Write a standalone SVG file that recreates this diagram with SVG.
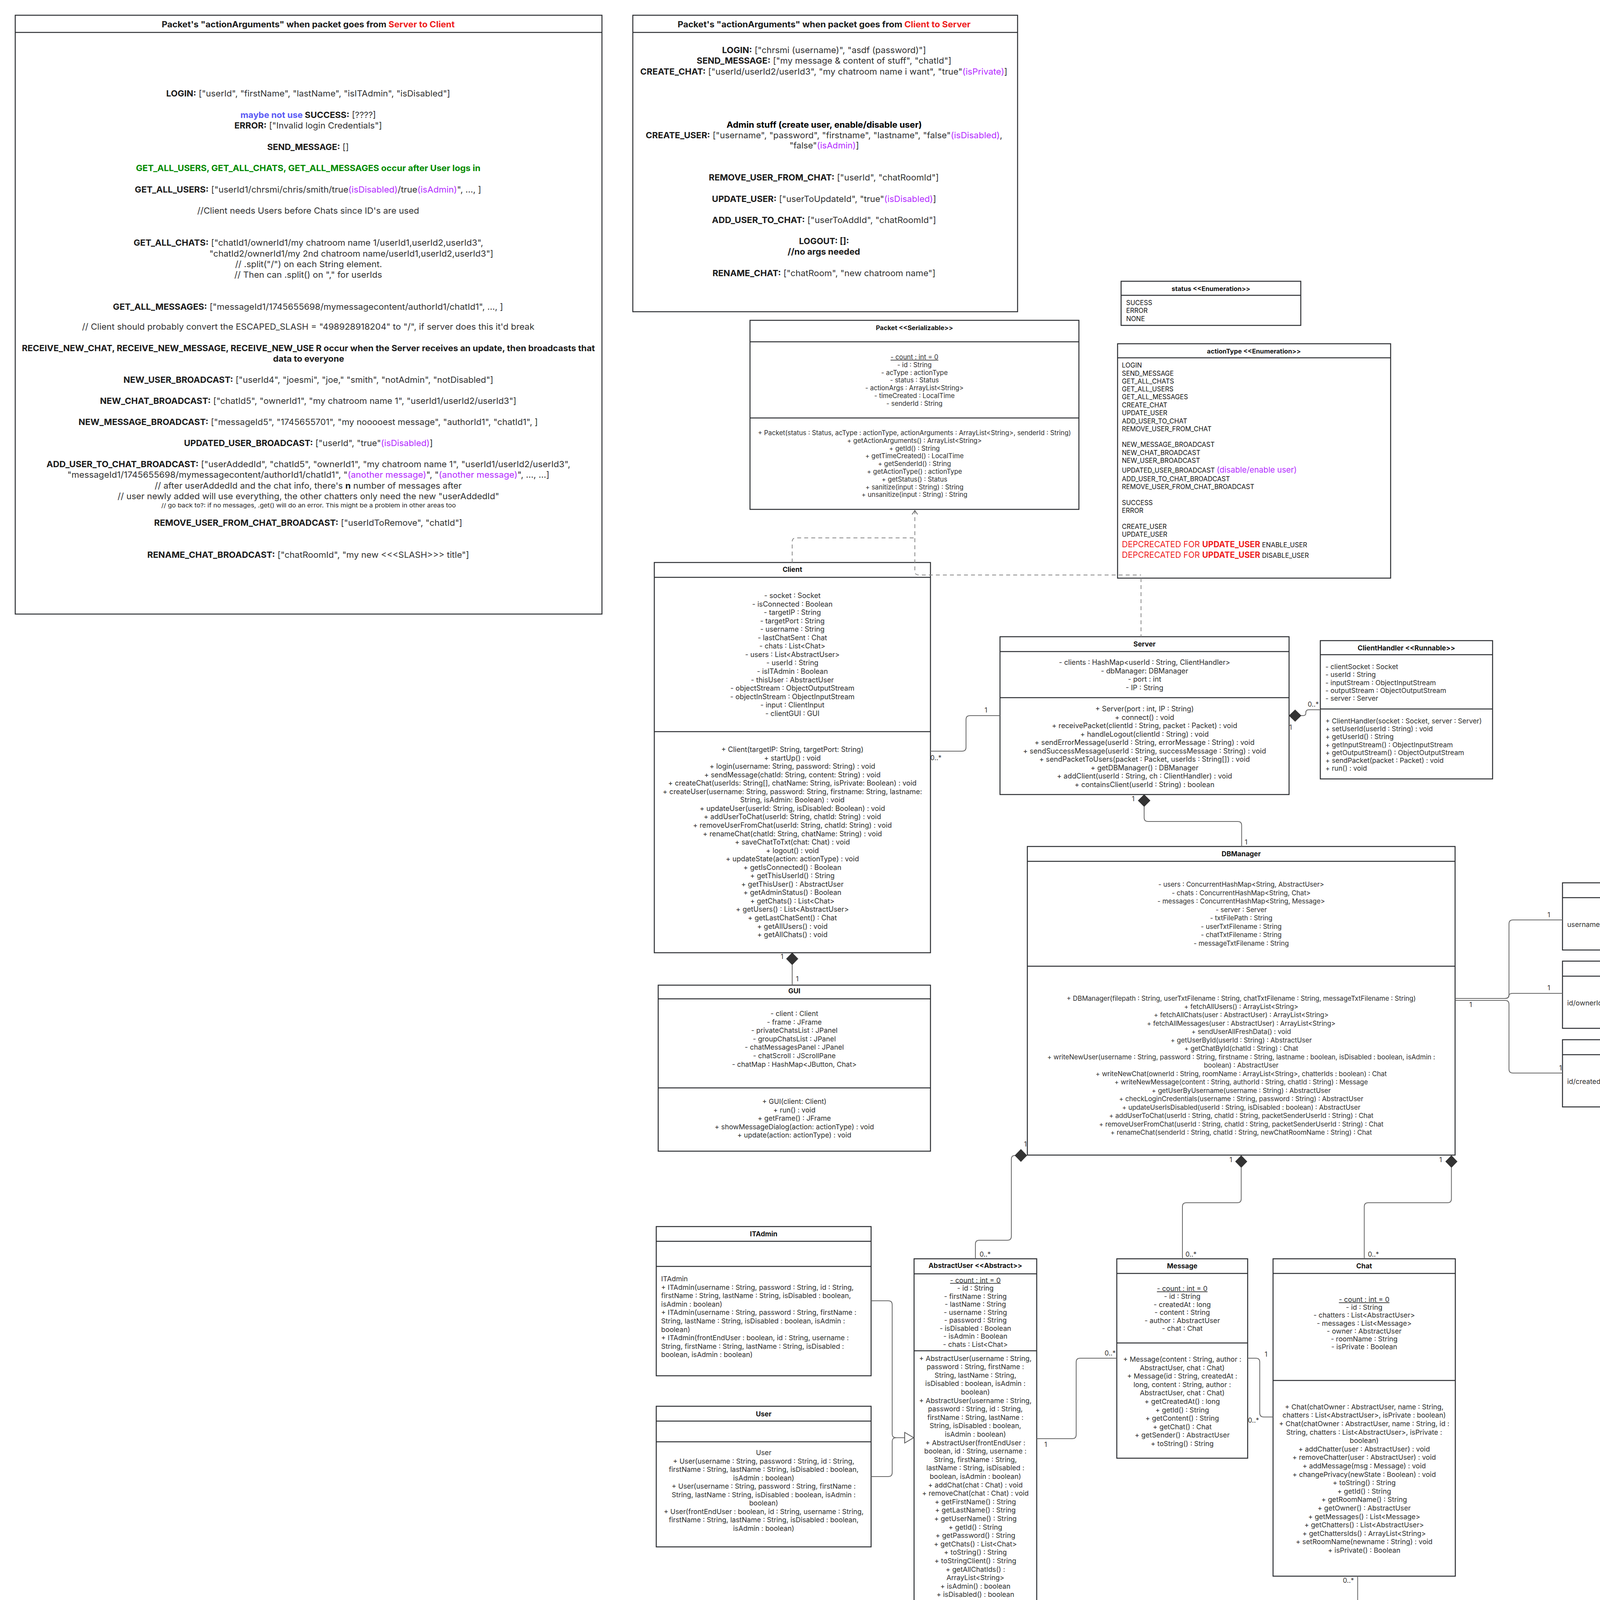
<svg xmlns="http://www.w3.org/2000/svg" width="4974" height="4220" viewBox="0 0 4974 4220">
<style>
.box{fill:#fff;stroke:#2b2d31;stroke-width:2.5}
.sep{stroke:#2b2d31;stroke-width:2.5;fill:none}
text{font-family:Inter,"Liberation Sans",Arial,sans-serif;fill:#2e2e2e}
.n{font-size:22px;fill:#333}
.h{font-size:21px;font-weight:700;fill:#1a1a1a}
.k{font-size:17.8px}
.kc{font-size:18.1px}
.ks{font-size:18.2px}
.kd{font-size:17px}
.kh{font-size:17.5px}
.kp{font-size:16.8px}
.kt{font-size:17.5px;font-weight:700;fill:#111}
.e{font-size:16.7px;fill:#111}
.et{font-size:16.5px;font-weight:700;fill:#111}
.mt{font-size:15px;font-weight:700;fill:#111}
.m{text-anchor:middle}
.b{font-weight:700;fill:#1a1a1a}
.red{fill:#ee1c1c}
.pur{fill:#b42cff}
.grn{fill:#008a00}
.blu{fill:#5a5af5}
.u{text-decoration:underline}
.c{fill:none;stroke:#666;stroke-width:2}
.d{stroke-dasharray:10 8;stroke:#888}
.lb{font-size:17px;fill:#333;text-anchor:middle}
.dia{fill:#333;stroke:#333;stroke-width:1}
.tri{fill:#fff;stroke:#555;stroke-width:2}
</style>
<rect x="0" y="0" width="4974" height="4220" fill="#fff"/>

<g id="note-server-to-client">
<rect class="box" x="39" y="39" width="1502" height="1533"/>
<line class="sep" x1="39" y1="83" x2="1541" y2="83"/>
<text class="h m" x="789" y="69.5" textLength="750" lengthAdjust="spacingAndGlyphs">Packet's "actionArguments" when packet goes from <tspan class="red">Server to Client</tspan></text>
<text class="n m" x="789" y="247" textLength="727" lengthAdjust="spacingAndGlyphs"><tspan class="b">LOGIN:</tspan> ["userId", "firstName", "lastName", "isITAdmin", "isDisabled"]</text>
<text class="n m" x="789" y="302" textLength="347" lengthAdjust="spacingAndGlyphs"><tspan class="b blu">maybe not use </tspan><tspan class="b">SUCCESS:</tspan> [????]</text>
<text class="n m" x="789" y="329" textLength="378" lengthAdjust="spacingAndGlyphs"><tspan class="b">ERROR:</tspan> ["Invalid login Credentials"]</text>
<text class="n m" x="788.5" y="384" textLength="209" lengthAdjust="spacingAndGlyphs"><tspan class="b">SEND_MESSAGE:</tspan> []</text>
<text class="n m b grn" x="789" y="438" textLength="882" lengthAdjust="spacingAndGlyphs">GET_ALL_USERS, GET_ALL_CHATS, GET_ALL_MESSAGES occur after User logs in</text>
<text class="n m" x="788.5" y="493" textLength="887" lengthAdjust="spacingAndGlyphs"><tspan class="b">GET_ALL_USERS:</tspan> ["userId1/chrsmi/chris/smith/true<tspan class="pur">(isDisabled)</tspan>/true<tspan class="pur">(isAdmin)</tspan>", ..., ]</text>
<text class="n m" x="789" y="547" textLength="568" lengthAdjust="spacingAndGlyphs">//Client needs Users before Chats since ID's are used</text>
<text class="n m" x="789.5" y="629" textLength="895" lengthAdjust="spacingAndGlyphs"><tspan class="b">GET_ALL_CHATS:</tspan> ["chatId1/ownerId1/my chatroom name 1/userId1,userId2,userId3",</text>
<text class="n" x="536" y="657" textLength="727" lengthAdjust="spacingAndGlyphs">"chatId2/ownerId1/my 2nd chatroom name/userId1,userId2,userId3"]</text>
<text class="n" x="602" y="684" textLength="376" lengthAdjust="spacingAndGlyphs">// .split("/") on each String element.</text>
<text class="n" x="600" y="711" textLength="378" lengthAdjust="spacingAndGlyphs">// Then can .split() on "," for userIds</text>
<text class="n m" x="788.5" y="793" textLength="999" lengthAdjust="spacingAndGlyphs"><tspan class="b">GET_ALL_MESSAGES:</tspan> ["messageId1/1745655698/mymessagecontent/authorId1/chatId1", ..., ]</text>
<text class="n m" x="789" y="844" textLength="1158" lengthAdjust="spacingAndGlyphs">// Client should probably convert the ESCAPED_SLASH = "498928918204" to "/", if server does this it'd break</text>
<text class="n m b" x="789.5" y="899" textLength="1467" lengthAdjust="spacingAndGlyphs">RECEIVE_NEW_CHAT, RECEIVE_NEW_MESSAGE, RECEIVE_NEW_USE R occur when the Server receives an update, then broadcasts that</text>
<text class="n m b" x="790" y="926" textLength="182" lengthAdjust="spacingAndGlyphs">data to everyone</text>
<text class="n m" x="789.5" y="980" textLength="947" lengthAdjust="spacingAndGlyphs"><tspan class="b">NEW_USER_BROADCAST:</tspan> ["userId4", "joesmi", "joe," "smith", "notAdmin", "notDisabled"]</text>
<text class="n m" x="789" y="1034" textLength="1066" lengthAdjust="spacingAndGlyphs"><tspan class="b">NEW_CHAT_BROADCAST:</tspan> ["chatId5", "ownerId1", "my chatroom name 1", "userId1/userId2/userId3"]</text>
<text class="n m" x="789" y="1088" textLength="1176" lengthAdjust="spacingAndGlyphs"><tspan class="b">NEW_MESSAGE_BROADCAST:</tspan> ["messageId5", "1745655701", "my nooooest message", "authorId1", "chatId1", ]</text>
<text class="n m" x="789.5" y="1142" textLength="637" lengthAdjust="spacingAndGlyphs"><tspan class="b">UPDATED_USER_BROADCAST:</tspan> ["userId", "true"<tspan class="pur">(isDisabled)</tspan>]</text>
<text class="n m" x="789.5" y="1196" textLength="1341" lengthAdjust="spacingAndGlyphs"><tspan class="b">ADD_USER_TO_CHAT_BROADCAST:</tspan> ["userAddedId", "chatId5", "ownerId1", "my chatroom name 1", "userId1/userId2/userId3",</text>
<text class="n m" x="789.5" y="1223" textLength="1234" lengthAdjust="spacingAndGlyphs">"messageId1/1745655698/mymessagecontent/authorId1/chatId1", "<tspan class="pur">(another message)</tspan>", "<tspan class="pur">(another message)</tspan>", ..., ...]</text>
<text class="n m" x="789" y="1251" textLength="786" lengthAdjust="spacingAndGlyphs">// after userAddedId and the chat info, there's <tspan class="b">n</tspan> number of messages after</text>
<text class="n m" x="789.5" y="1278" textLength="977" lengthAdjust="spacingAndGlyphs">// user newly added will use everything, the other chatters only need the new "userAddedId"</text>
<text class="m" style="font-size:15px;fill:#222" x="790" y="1299" textLength="754" lengthAdjust="spacingAndGlyphs">// go back to?: if no messages, .get() will do an error. This might be a problem in other areas too</text>
<text class="n m" x="789" y="1346" textLength="789" lengthAdjust="spacingAndGlyphs"><tspan class="b">REMOVE_USER_FROM_CHAT_BROADCAST:</tspan> ["userIdToRemove", "chatId"]</text>
<text class="n m" x="789" y="1428" textLength="824" lengthAdjust="spacingAndGlyphs"><tspan class="b">RENAME_CHAT_BROADCAST:</tspan> ["chatRoomId", "my new &lt;&lt;&lt;SLASH&gt;&gt;&gt; title"]</text>
</g>

<g id="note-client-to-server">
<rect class="box" x="1620" y="39" width="985" height="759"/>
<line class="sep" x1="1620" y1="83" x2="2605" y2="83"/>
<text class="h m" x="2109.7" y="69.5" textLength="750" lengthAdjust="spacingAndGlyphs">Packet's "actionArguments" when packet goes from <tspan class="red">Client to Server</tspan></text>
<text class="n m" x="2109.6" y="136" textLength="522" lengthAdjust="spacingAndGlyphs"><tspan class="b">LOGIN:</tspan> ["chrsmi (username)", "asdf (password)"]</text>
<text class="n m" x="2109.6" y="163" textLength="652" lengthAdjust="spacingAndGlyphs"><tspan class="b">SEND_MESSAGE:</tspan> ["my message &amp; content of stuff", "chatId"]</text>
<text class="n m" x="2109" y="191" textLength="940" lengthAdjust="spacingAndGlyphs"><tspan class="b">CREATE_CHAT:</tspan> ["userId/userId2/userId3", "my chatroom name i want", "true"<tspan class="pur">(isPrivate)</tspan>]</text>
<text class="n m b" x="2110" y="326.6" textLength="500" lengthAdjust="spacingAndGlyphs" style="fill:#000">Admin stuff (create user, enable/disable user)</text>
<text class="n m" x="2109.5" y="354" textLength="913" lengthAdjust="spacingAndGlyphs"><tspan class="b">CREATE_USER:</tspan> ["username", "password", "firstname", "lastname", "false"<tspan class="pur">(isDisabled)</tspan>,</text>
<text class="n m" x="2110" y="380" textLength="178" lengthAdjust="spacingAndGlyphs">"false"<tspan class="pur">(isAdmin)</tspan>]</text>
<text class="n m" x="2109" y="462" textLength="589" lengthAdjust="spacingAndGlyphs"><tspan class="b">REMOVE_USER_FROM_CHAT:</tspan> ["userId", "chatRoomId"]</text>
<text class="n m" x="2109.6" y="516.6" textLength="574" lengthAdjust="spacingAndGlyphs"><tspan class="b">UPDATE_USER:</tspan> ["userToUpdateId", "true"<tspan class="pur">(isDisabled)</tspan>]</text>
<text class="n m" x="2109.6" y="571" textLength="574" lengthAdjust="spacingAndGlyphs"><tspan class="b">ADD_USER_TO_CHAT:</tspan> ["userToAddId", "chatRoomId"]</text>
<text class="n m b" x="2109.6" y="625" textLength="128" lengthAdjust="spacingAndGlyphs">LOGOUT: []:</text>
<text class="n m b" x="2109" y="652" textLength="185.5" lengthAdjust="spacingAndGlyphs">//no args needed</text>
<text class="n m" x="2109.4" y="707" textLength="571" lengthAdjust="spacingAndGlyphs"><tspan class="b">RENAME_CHAT:</tspan> ["chatRoom", "new chatroom name"]</text>
</g>

<g id="packet">
<rect class="box" x="1920" y="820" width="842" height="484"/>
<line class="sep" x1="1920" y1="875" x2="2762" y2="875"/>
<line class="sep" x1="1920" y1="1070" x2="2762" y2="1070"/>
<text class="kt m" x="2341" y="845" style="font-size:16.5px">Packet &lt;&lt;Serializable&gt;&gt;</text>
<text class="kp m"><tspan x="2341" y="920" class="u">- count : int = 0</tspan><tspan x="2341" dy="19.8">- id : String</tspan><tspan x="2341" dy="19.8">- acType : actionType</tspan><tspan x="2341" dy="19.8">- status : Status</tspan><tspan x="2341" dy="19.8">- actionArgs : ArrayList&lt;String&gt;</tspan><tspan x="2341" dy="19.8">- timeCreated : LocalTime</tspan><tspan x="2341" dy="19.8">- senderId : String</tspan></text>
<text class="kp m"><tspan x="2341" y="1114">+ Packet(status : Status, acType : actionType, actionArguments : ArrayList&lt;String&gt;, senderId : String)</tspan><tspan x="2341" dy="19.8">+ getActionArguments() : ArrayList&lt;String&gt;</tspan><tspan x="2341" dy="19.8">+ getId() : String</tspan><tspan x="2341" dy="19.8">+ getTimeCreated() : LocalTime</tspan><tspan x="2341" dy="19.8">+ getSenderId() : String</tspan><tspan x="2341" dy="19.8">+ getActionType() : actionType</tspan><tspan x="2341" dy="19.8">+ getStatus() : Status</tspan><tspan x="2341" dy="19.8">+ sanitize(input : String) : String</tspan><tspan x="2341" dy="19.8">+ unsanitize(input : String) : String</tspan></text>
</g>

<g id="status-enum">
<rect class="box" x="2870" y="720" width="460" height="113"/>
<line class="sep" x1="2870" y1="756" x2="3330" y2="756"/>
<text class="et m" x="3100" y="745">status &lt;&lt;Enumeration&gt;&gt;</text>
<text class="e"><tspan x="2883" y="781">SUCESS</tspan><tspan x="2883" dy="20.4">ERROR</tspan><tspan x="2883" dy="20.4">NONE</tspan></text>
</g>

<g id="actiontype-enum">
<rect class="box" x="2861" y="880" width="699" height="600"/>
<line class="sep" x1="2861" y1="916" x2="3560" y2="916"/>
<text class="et m" x="3210" y="905">actionType &lt;&lt;Enumeration&gt;&gt;</text>
<text class="e"><tspan x="2872" y="941">LOGIN</tspan><tspan x="2872" y="962">SEND_MESSAGE</tspan><tspan x="2872" y="982">GET_ALL_CHATS</tspan><tspan x="2872" y="1002">GET_ALL_USERS</tspan><tspan x="2872" y="1022">GET_ALL_MESSAGES</tspan><tspan x="2872" y="1043">CREATE_CHAT</tspan><tspan x="2872" y="1063">UPDATE_USER</tspan><tspan x="2872" y="1084">ADD_USER_TO_CHAT</tspan><tspan x="2872" y="1104">REMOVE_USER_FROM_CHAT</tspan><tspan x="2872" y="1144">NEW_MESSAGE_BROADCAST</tspan><tspan x="2872" y="1165">NEW_CHAT_BROADCAST</tspan><tspan x="2872" y="1185">NEW_USER_BROADCAST</tspan><tspan x="2872" y="1209.5">UPDATED_USER_BROADCAST <tspan class="pur" style="font-size:20.5px">(disable/enable user)</tspan></tspan><tspan x="2872" y="1232">ADD_USER_TO_CHAT_BROADCAST</tspan><tspan x="2872" y="1252">REMOVE_USER_FROM_CHAT_BROADCAST</tspan><tspan x="2872" y="1293">SUCCESS</tspan><tspan x="2872" y="1313">ERROR</tspan><tspan x="2872" y="1354">CREATE_USER</tspan><tspan x="2872" y="1374">UPDATE_USER</tspan></text>
<text class="e" x="2872" y="1400.5"><tspan class="red" style="font-size:21px">DEPCRECATED FOR </tspan><tspan class="red" style="font-size:21px;font-weight:700">UPDATE_USER</tspan> ENABLE_USER</text>
<text class="e" x="2872" y="1427.5"><tspan class="red" style="font-size:21px">DEPCRECATED FOR </tspan><tspan class="red" style="font-size:21px;font-weight:700">UPDATE_USER</tspan> DISABLE_USER</text>
</g>

<g id="client">
<rect class="box" x="1675" y="1440" width="707" height="999"/>
<line class="sep" x1="1675" y1="1478" x2="2382" y2="1478"/>
<line class="sep" x1="1675" y1="1873" x2="2382" y2="1873"/>
<text class="kt m" x="2028.5" y="1464">Client</text>
<text class="kc m"><tspan x="2028.5" y="1531">- socket : Socket</tspan><tspan x="2028.5" dy="21.55">- isConnected : Boolean</tspan><tspan x="2028.5" dy="21.55">- targetIP : String</tspan><tspan x="2028.5" dy="21.55">- targetPort : String</tspan><tspan x="2028.5" dy="21.55">- username : String</tspan><tspan x="2028.5" dy="21.55">- lastChatSent : Chat</tspan><tspan x="2028.5" dy="21.55">- chats : List&lt;Chat&gt;</tspan><tspan x="2028.5" dy="21.55">- users : List&lt;AbstractUser&gt;</tspan><tspan x="2028.5" dy="21.55">- userId : String</tspan><tspan x="2028.5" dy="21.55">- isITAdmin : Boolean</tspan><tspan x="2028.5" dy="21.55">- thisUser : AbstractUser</tspan><tspan x="2028.5" dy="21.55">- objectStream : ObjectOutputStream</tspan><tspan x="2028.5" dy="21.55">- objectInStream : ObjectInputStream</tspan><tspan x="2028.5" dy="21.55">- input : ClientInput</tspan><tspan x="2028.5" dy="21.55">- clientGUI : GUI</tspan></text>
<text class="kc m"><tspan x="2028.5" y="1925">+ Client(targetIP: String, targetPort: String)</tspan><tspan x="2028.5" dy="21.55">+ startUp() : void</tspan><tspan x="2028.5" dy="21.55">+ login(username: String, password: String) : void</tspan><tspan x="2028.5" dy="21.55">+ sendMessage(chatId: String, content: String) : void</tspan><tspan x="2028.5" dy="21.55">+ createChat(userIds: String[], chatName: String, isPrivate: Boolean) : void</tspan><tspan x="2028.5" dy="21.55">+ createUser(username: String, password: String, firstname: String, lastname:</tspan><tspan x="2028.5" dy="21.55">String, isAdmin: Boolean) : void</tspan><tspan x="2028.5" dy="21.55">+ updateUser(userId: String, isDisabled: Boolean) : void</tspan><tspan x="2028.5" dy="21.55">+ addUserToChat(userId: String, chatId: String) : void</tspan><tspan x="2028.5" dy="21.55">+ removeUserFromChat(userId: String, chatId: String) : void</tspan><tspan x="2028.5" dy="21.55">+ renameChat(chatId: String, chatName: String) : void</tspan><tspan x="2028.5" dy="21.55">+ saveChatToTxt(chat: Chat) : void</tspan><tspan x="2028.5" dy="21.55">+ logout() : void</tspan><tspan x="2028.5" dy="21.55">+ updateState(action: actionType) : void</tspan><tspan x="2028.5" dy="21.55">+ getIsConnected() : Boolean</tspan><tspan x="2028.5" dy="21.55">+ getThisUserId() : String</tspan><tspan x="2028.5" dy="21.55">+ getThisUser() : AbstractUser</tspan><tspan x="2028.5" dy="21.55">+ getAdminStatus() : Boolean</tspan><tspan x="2028.5" dy="21.55">+ getChats() : List&lt;Chat&gt;</tspan><tspan x="2028.5" dy="21.55">+ getUsers() : List&lt;AbstractUser&gt;</tspan><tspan x="2028.5" dy="21.55">+ getLastChatSent() : Chat</tspan><tspan x="2028.5" dy="21.55">+ getAllUsers() : void</tspan><tspan x="2028.5" dy="21.55">+ getAllChats() : void</tspan></text>
</g>

<g id="server">
<rect class="box" x="2560" y="1630" width="740" height="404"/>
<line class="sep" x1="2560" y1="1668" x2="3300" y2="1668"/>
<line class="sep" x1="2560" y1="1786" x2="3300" y2="1786"/>
<text class="kt m" x="2930" y="1655">Server</text>
<text class="ks m"><tspan x="2930" y="1702">- clients : HashMap&lt;userId : String, ClientHandler&gt;</tspan><tspan x="2930" dy="21.6">- dbManager: DBManager</tspan><tspan x="2930" dy="21.6">- port :  int</tspan><tspan x="2930" dy="21.6">- IP : String</tspan></text>
<text class="ks m"><tspan x="2930" y="1821">+ Server(port : int, IP : String)</tspan><tspan x="2930" dy="21.5">+ connect() : void</tspan><tspan x="2930" dy="21.5">+ receivePacket(clientId : String, packet : Packet) : void</tspan><tspan x="2930" dy="21.5">+ handleLogout(clientId : String) : void</tspan><tspan x="2930" dy="21.5">+ sendErrorMessage(userId : String, errorMessage : String) : void</tspan><tspan x="2930" dy="21.5">+ sendSuccessMessage(userId : String, successMessage : String) : void</tspan><tspan x="2930" dy="21.5">+ sendPacketToUsers(packet : Packet, userIds : String[]) : void</tspan><tspan x="2930" dy="21.5">+ getDBManager() : DBManager</tspan><tspan x="2930" dy="21.5">+ addClient(userId : String, ch : ClientHandler) : void</tspan><tspan x="2930" dy="21.5">+ containsClient(userId : String) : boolean</tspan></text>
</g>

<g id="clienthandler">
<rect class="box" x="3380" y="1640" width="441" height="354"/>
<line class="sep" x1="3380" y1="1676" x2="3821" y2="1676"/>
<line class="sep" x1="3380" y1="1815" x2="3821" y2="1815"/>
<text class="kt m" x="3600.5" y="1665">ClientHandler &lt;&lt;Runnable&gt;&gt;</text>
<text class="kh"><tspan x="3393" y="1713">- clientSocket : Socket</tspan><tspan x="3393" dy="20.3">- userId : String</tspan><tspan x="3393" dy="20.3">- inputStream : ObjectInputStream</tspan><tspan x="3393" dy="20.3">- outputStream : ObjectOutputStream</tspan><tspan x="3393" dy="20.3">- server : Server</tspan></text>
<text class="kh"><tspan x="3393" y="1852">+ ClientHandler(socket : Socket, server : Server)</tspan><tspan x="3393" dy="20.2">+ setUserId(userId : String) : void</tspan><tspan x="3393" dy="20.2">+ getUserId() : String</tspan><tspan x="3393" dy="20.2">+ getInputStream() : ObjectInputStream</tspan><tspan x="3393" dy="20.2">+ getOutputStream() : ObjectOutputStream</tspan><tspan x="3393" dy="20.2">+ sendPacket(packet : Packet) : void</tspan><tspan x="3393" dy="20.2">+ run() : void</tspan></text>
</g>

<g id="dbmanager">
<rect class="box" x="2630" y="2167" width="1095" height="790"/>
<line class="sep" x1="2630" y1="2205" x2="3725" y2="2205"/>
<line class="sep" x1="2630" y1="2473.5" x2="3725" y2="2473.5"/>
<text class="kt m" x="3177.5" y="2192">DBManager</text>
<text class="kd m"><tspan x="3177.5" y="2270">- users : ConcurrentHashMap&lt;String, AbstractUser&gt;</tspan><tspan x="3177.5" dy="21.5">- chats : ConcurrentHashMap&lt;String, Chat&gt;</tspan><tspan x="3177.5" dy="21.5">- messages : ConcurrentHashMap&lt;String, Message&gt;</tspan><tspan x="3177.5" dy="21.5">- server : Server</tspan><tspan x="3177.5" dy="21.5">- txtFilePath : String</tspan><tspan x="3177.5" dy="21.5">- userTxtFilename : String</tspan><tspan x="3177.5" dy="21.5">- chatTxtFilename : String</tspan><tspan x="3177.5" dy="21.5">- messageTxtFilename : String</tspan></text>
<text class="kd m"><tspan x="3177.5" y="2561.5">+ DBManager(filepath : String, userTxtFilename : String, chatTxtFilename : String, messageTxtFilename : String)</tspan><tspan x="3177.5" dy="21.48">+ fetchAllUsers() : ArrayList&lt;String&gt;</tspan><tspan x="3177.5" dy="21.48">+ fetchAllChats(user : AbstractUser) : ArrayList&lt;String&gt;</tspan><tspan x="3177.5" dy="21.48">+ fetchAllMessages(user : AbstractUser) : ArrayList&lt;String&gt;</tspan><tspan x="3177.5" dy="21.48">+ sendUserAllFreshData() : void</tspan><tspan x="3177.5" dy="21.48">+ getUserById(userId : String) : AbstractUser</tspan><tspan x="3177.5" dy="21.48">+ getChatById(chatId : String) : Chat</tspan><tspan x="3177.5" dy="21.48">+ writeNewUser(username : String, password : String, firstname : String, lastname : boolean, isDisabled : boolean, isAdmin :</tspan><tspan x="3177.5" dy="21.48">boolean) : AbstractUser</tspan><tspan x="3177.5" dy="21.48">+ writeNewChat(ownerId : String, roomName : ArrayList&lt;String&gt;, chatterIds : boolean) : Chat</tspan><tspan x="3177.5" dy="21.48">+ writeNewMessage(content : String, authorId : String, chatId : String) : Message</tspan><tspan x="3177.5" dy="21.48">+ getUserByUsername(username : String) : AbstractUser</tspan><tspan x="3177.5" dy="21.48">+ checkLoginCredentials(username : String, password : String) : AbstractUser</tspan><tspan x="3177.5" dy="21.48">+ updateUserIsDisabled(userId : String, isDisabled : boolean) : AbstractUser</tspan><tspan x="3177.5" dy="21.48">+ addUserToChat(userId : String, chatId : String, packetSenderUserId : String) : Chat</tspan><tspan x="3177.5" dy="21.48">+ removeUserFromChat(userId : String, chatId : String, packetSenderUserId : String) : Chat</tspan><tspan x="3177.5" dy="21.48">+ renameChat(senderId : String, chatId : String, newChatRoomName : String) : Chat</tspan></text>
</g>

<g id="gui">
<rect class="box" x="1685" y="2522" width="697" height="425"/>
<line class="sep" x1="1685" y1="2557" x2="2382" y2="2557"/>
<line class="sep" x1="1685" y1="2785" x2="2382" y2="2785"/>
<text class="kt m" x="2033.5" y="2543">GUI</text>
<text class="k m"><tspan x="2033.5" y="2601">- client : Client</tspan><tspan x="2033.5" dy="21.6">- frame : JFrame</tspan><tspan x="2033.5" dy="21.6">- privateChatsList : JPanel</tspan><tspan x="2033.5" dy="21.6">- groupChatsList : JPanel</tspan><tspan x="2033.5" dy="21.6">- chatMessagesPanel : JPanel</tspan><tspan x="2033.5" dy="21.6">- chatScroll : JScrollPane</tspan><tspan x="2033.5" dy="21.6">- chatMap : HashMap&lt;JButton, Chat&gt;</tspan></text>
<text class="k m"><tspan x="2033.5" y="2826">+ GUI(client: Client)</tspan><tspan x="2033.5" dy="21.6">+ run() : void</tspan><tspan x="2033.5" dy="21.6">+ getFrame() : JFrame</tspan><tspan x="2033.5" dy="21.6">+ showMessageDialog(action: actionType) : void</tspan><tspan x="2033.5" dy="21.6">+ update(action: actionType) : void</tspan></text>
</g>

<g id="itadmin">
<rect class="box" x="1680" y="3140" width="550" height="382"/>
<line class="sep" x1="1680" y1="3177.7" x2="2230" y2="3177.7"/>
<line class="sep" x1="1680" y1="3242" x2="2230" y2="3242"/>
<text class="kt m" x="1955" y="3165">ITAdmin</text>
<text class="k"><tspan x="1692.6" y="3280">ITAdmin</tspan><tspan x="1692.6" dy="21.6">+ ITAdmin(username : String, password : String, id : String,</tspan><tspan x="1692.6" dy="21.6">firstName : String, lastName : String, isDisabled : boolean,</tspan><tspan x="1692.6" dy="21.6">isAdmin : boolean)</tspan><tspan x="1692.6" dy="21.6">+ ITAdmin(username : String, password : String, firstName :</tspan><tspan x="1692.6" dy="21.6">String, lastName : String, isDisabled : boolean, isAdmin :</tspan><tspan x="1692.6" dy="21.6">boolean)</tspan><tspan x="1692.6" dy="21.6">+ ITAdmin(frontEndUser : boolean, id : String, username :</tspan><tspan x="1692.6" dy="21.6">String, firstName : String, lastName : String, isDisabled :</tspan><tspan x="1692.6" dy="21.6">boolean, isAdmin : boolean)</tspan></text>
</g>

<g id="user">
<rect class="box" x="1680" y="3600" width="550" height="360"/>
<line class="sep" x1="1680" y1="3638" x2="2230" y2="3638"/>
<line class="sep" x1="1680" y1="3691" x2="2230" y2="3691"/>
<text class="kt m" x="1955" y="3625.5">User</text>
<text class="k m"><tspan x="1955" y="3725">User</tspan><tspan x="1955" dy="21.5">+ User(username : String, password : String, id : String,</tspan><tspan x="1955" dy="21.5">firstName : String, lastName : String, isDisabled : boolean,</tspan><tspan x="1955" dy="21.5">isAdmin : boolean)</tspan><tspan x="1955" dy="21.5">+ User(username : String, password : String, firstName :</tspan><tspan x="1955" dy="21.5">String, lastName : String, isDisabled : boolean, isAdmin :</tspan><tspan x="1955" dy="21.5">boolean)</tspan><tspan x="1955" dy="21.5">+ User(frontEndUser : boolean, id : String, username : String,</tspan><tspan x="1955" dy="21.5">firstName : String, lastName : String, isDisabled : boolean,</tspan><tspan x="1955" dy="21.5">isAdmin : boolean)</tspan></text>
</g>

<g id="abstractuser">
<rect class="box" x="2340" y="3222.5" width="314" height="922.5"/>
<line class="sep" x1="2340" y1="3261" x2="2654" y2="3261"/>
<line class="sep" x1="2340" y1="3458" x2="2654" y2="3458"/>
<text class="kt m" x="2497" y="3246">AbstractUser &lt;&lt;Abstract&gt;&gt;</text>
<text class="k m"><tspan x="2497" y="3283.5" class="u">- count : int = 0</tspan><tspan x="2497" dy="20.5">- id : String</tspan><tspan x="2497" dy="20.5">- firstName : String</tspan><tspan x="2497" dy="20.5">- lastName : String</tspan><tspan x="2497" dy="20.5">- username : String</tspan><tspan x="2497" dy="20.5">- password : String</tspan><tspan x="2497" dy="20.5">- isDisabled : Boolean</tspan><tspan x="2497" dy="20.5">- isAdmin : Boolean</tspan><tspan x="2497" dy="20.5">- chats : List&lt;Chat&gt;</tspan></text>
<text class="k m"><tspan x="2497" y="3483.5">+ AbstractUser(username : String,</tspan><tspan x="2497" dy="21.6">password : String, firstName :</tspan><tspan x="2497" dy="21.6">String, lastName : String,</tspan><tspan x="2497" dy="21.6">isDisabled : boolean, isAdmin :</tspan><tspan x="2497" dy="21.6">boolean)</tspan><tspan x="2497" dy="21.6">+ AbstractUser(username : String,</tspan><tspan x="2497" dy="21.6">password : String, id : String,</tspan><tspan x="2497" dy="21.6">firstName : String, lastName :</tspan><tspan x="2497" dy="21.6">String, isDisabled : boolean,</tspan><tspan x="2497" dy="21.6">isAdmin : boolean)</tspan><tspan x="2497" dy="21.6">+ AbstractUser(frontEndUser :</tspan><tspan x="2497" dy="21.6">boolean, id : String, username :</tspan><tspan x="2497" dy="21.6">String, firstName : String,</tspan><tspan x="2497" dy="21.6">lastName : String, isDisabled :</tspan><tspan x="2497" dy="21.6">boolean, isAdmin : boolean)</tspan><tspan x="2497" dy="21.6">+ addChat(chat : Chat) : void</tspan><tspan x="2497" dy="21.6">+ removeChat(chat : Chat) : void</tspan><tspan x="2497" dy="21.6">+ getFirstName() : String</tspan><tspan x="2497" dy="21.6">+ getLastName() : String</tspan><tspan x="2497" dy="21.6">+ getUserName() : String</tspan><tspan x="2497" dy="21.6">+ getId() : String</tspan><tspan x="2497" dy="21.6">+ getPassword() : String</tspan><tspan x="2497" dy="21.6">+ getChats() : List&lt;Chat&gt;</tspan><tspan x="2497" dy="21.6">+ toString() : String</tspan><tspan x="2497" dy="21.6">+ toStringClient() : String</tspan><tspan x="2497" dy="21.6">+ getAllChatIds() :</tspan><tspan x="2497" dy="21.6">ArrayList&lt;String&gt;</tspan><tspan x="2497" dy="21.6">+ isAdmin() : boolean</tspan><tspan x="2497" dy="21.6">+ isDisabled() : boolean</tspan><tspan x="2497" dy="21.6">+ updateIsDisabled(isDisabled :</tspan><tspan x="2497" dy="21.6">boolean) : void</tspan></text>
</g>

<g id="message">
<rect class="box" x="2859" y="3222.5" width="335" height="510.5"/>
<line class="sep" x1="2859" y1="3260" x2="3194" y2="3260"/>
<line class="sep" x1="2859" y1="3438" x2="3194" y2="3438"/>
<text class="kt m" x="3026.5" y="3247">Message</text>
<text class="k m"><tspan x="3026.5" y="3305" class="u">- count : int = 0</tspan><tspan x="3026.5" dy="20.4">- id : String</tspan><tspan x="3026.5" dy="20.4">- createdAt : long</tspan><tspan x="3026.5" dy="20.4">- content : String</tspan><tspan x="3026.5" dy="20.4">- author : AbstractUser</tspan><tspan x="3026.5" dy="20.4">- chat : Chat</tspan></text>
<text class="k m"><tspan x="3026.5" y="3486">+ Message(content : String, author :</tspan><tspan x="3026.5" dy="21.6">AbstractUser, chat : Chat)</tspan><tspan x="3026.5" dy="21.6">+ Message(id : String, createdAt :</tspan><tspan x="3026.5" dy="21.6">long, content : String, author :</tspan><tspan x="3026.5" dy="21.6">AbstractUser, chat : Chat)</tspan><tspan x="3026.5" dy="21.6">+ getCreatedAt() : long</tspan><tspan x="3026.5" dy="21.6">+ getId() : String</tspan><tspan x="3026.5" dy="21.6">+ getContent() : String</tspan><tspan x="3026.5" dy="21.6">+ getChat() : Chat</tspan><tspan x="3026.5" dy="21.6">+ getSender() : AbstractUser</tspan><tspan x="3026.5" dy="21.6">+ toString() : String</tspan></text>
</g>

<g id="chat">
<rect class="box" x="3259" y="3222.5" width="466.6" height="812.5"/>
<line class="sep" x1="3259" y1="3260" x2="3725.6" y2="3260"/>
<line class="sep" x1="3259" y1="3534" x2="3725.6" y2="3534"/>
<text class="kt m" x="3492.3" y="3247">Chat</text>
<text class="k m"><tspan x="3492.3" y="3333" class="u">- count : int = 0</tspan><tspan x="3492.3" dy="20.2">- id : String</tspan><tspan x="3492.3" dy="20.2">- chatters : List&lt;AbstractUser&gt;</tspan><tspan x="3492.3" dy="20.2">- messages : List&lt;Message&gt;</tspan><tspan x="3492.3" dy="20.2">- owner : AbstractUser</tspan><tspan x="3492.3" dy="20.2">- roomName : String</tspan><tspan x="3492.3" dy="20.2">- isPrivate : Boolean</tspan></text>
<text class="k m"><tspan x="3492.3" y="3607.7">+ Chat(chatOwner : AbstractUser, name : String,</tspan><tspan x="3492.3" dy="21.6">chatters : List&lt;AbstractUser&gt;, isPrivate : boolean)</tspan><tspan x="3492.3" dy="21.6">+ Chat(chatOwner : AbstractUser, name : String, id :</tspan><tspan x="3492.3" dy="21.6">String, chatters : List&lt;AbstractUser&gt;, isPrivate :</tspan><tspan x="3492.3" dy="21.6">boolean)</tspan><tspan x="3492.3" dy="21.6">+ addChatter(user : AbstractUser) : void</tspan><tspan x="3492.3" dy="21.6">+ removeChatter(user : AbstractUser) : void</tspan><tspan x="3492.3" dy="21.6">+ addMessage(msg : Message) : void</tspan><tspan x="3492.3" dy="21.6">+ changePrivacy(newState : Boolean) : void</tspan><tspan x="3492.3" dy="21.6">+ toString() : String</tspan><tspan x="3492.3" dy="21.6">+ getId() : String</tspan><tspan x="3492.3" dy="21.6">+ getRoomName() : String</tspan><tspan x="3492.3" dy="21.6">+ getOwner() : AbstractUser</tspan><tspan x="3492.3" dy="21.6">+ getMessages() : List&lt;Message&gt;</tspan><tspan x="3492.3" dy="21.6">+ getChatters() : List&lt;AbstractUser&gt;</tspan><tspan x="3492.3" dy="21.6">+ getChattersIds() : ArrayList&lt;String&gt;</tspan><tspan x="3492.3" dy="21.6">+ setRoomName(newname : String) : void</tspan><tspan x="3492.3" dy="21.6">+ isPrivate() : Boolean</tspan></text>
</g>

<g id="file-users">
<rect class="box" x="4000" y="2260" width="591" height="172"/>
<line class="sep" x1="4000" y1="2298" x2="4591" y2="2298"/>
<text class="kt m" x="4295.5" y="2286">./dbFiles/development/Users.txt</text>
<text class="k" x="4012" y="2373">username/password/id/firstName/lastName/isDisabled/isAdmin</text>
</g>
<g id="file-chats">
<rect class="box" x="4000" y="2460.5" width="591" height="172"/>
<line class="sep" x1="4000" y1="2499" x2="4591" y2="2499"/>
<text class="kt m" x="4295.5" y="2487">./dbFiles/development/Chats.txt</text>
<text class="k" x="4012" y="2573.5">id/ownerId/roomName/isPrivate/userId1, userId2, userId3</text>
</g>
<g id="file-messages">
<rect class="box" x="4000" y="2661.7" width="591" height="172"/>
<line class="sep" x1="4000" y1="2700" x2="4591" y2="2700"/>
<text class="kt m" x="4295.5" y="2687">./dbFiles/development/Messages.txt</text>
<text class="k" x="4012" y="2775">id/createdAt/content/authorId/chatId</text>
</g>

<g id="mini-packet"><rect class="box" x="4438" y="400" width="193" height="38"/><text class="mt m" x="4534.5" y="424">Packet</text></g>
<g id="mini-client"><rect class="box" x="4358" y="501" width="159" height="121"/><text class="mt m" x="4437.5" y="566">Client</text></g>
<g id="mini-server"><rect class="box" x="4558" y="501" width="159" height="121"/><text class="mt m" x="4637.5" y="566">Server</text></g>
<g id="mini-clienthandler"><rect class="box" x="4780" y="542" width="153" height="35"/><text class="mt m" x="4856.5" y="565">Client Handler</text></g>
<g id="mini-gui"><rect class="box" x="4358" y="660" width="159" height="117"/><text class="mt m" x="4437.5" y="723">GUI</text></g>
<g id="mini-dbmanager"><rect class="box" x="4558" y="660" width="159" height="117"/><text class="mt m" x="4637.5" y="723">DBManager</text></g>
<g id="mini-user"><rect class="box" x="4780" y="641" width="153" height="35"/><text class="mt m" x="4856.5" y="664">User / IT Admin</text></g>
<g id="mini-chat"><rect class="box" x="4780" y="701" width="153" height="35"/><text class="mt m" x="4856.5" y="724">Chat</text></g>
<g id="mini-message"><rect class="box" x="4780" y="758" width="153" height="35"/><text class="mt m" x="4856.5" y="781">Message</text></g>

<g id="connectors">
<path class="c d" d="M2028,1440 V1387 Q2028,1377 2038,1377 H2342"/>
<path class="c d" d="M2342,1306 V1462 Q2342,1472 2352,1472 H2921"/>
<path class="c d" d="M2921,1480 V1630"/>
<path class="c" d="M2335,1317 L2342,1307 L2349,1317"/>
<path class="c" d="M2382,1923 H2463 Q2473,1923 2473,1913 V1842 Q2473,1832 2483,1832 H2560"/>
<text class="lb" x="2524" y="1824">1</text>
<text class="lb" x="2396" y="1946">0..*</text>
<path class="dia" d="M3300,1832 L3315.5,1817 L3331,1832 L3315.5,1847 Z"/>
<path class="c" d="M3331,1832 H3336 Q3343,1832 3343,1825 V1824 Q3343,1817 3350,1817 H3380"/>
<text class="lb" x="3362" y="1809">0..*</text>
<text class="lb" x="3304" y="1868">1</text>
<path class="dia" d="M2929,2034 L2944.5,2049.5 L2929,2065 L2913.5,2049.5 Z"/>
<path class="c" d="M2929,2065 V2093 Q2929,2103 2939,2103 H3168.6 Q3178.6,2103 3178.6,2113 V2167"/>
<text class="lb" x="2901" y="2051">1</text>
<text class="lb" x="3190" y="2162">1</text>
<path class="dia" d="M2028,2439 L2043,2454.5 L2028,2470 L2013,2454.5 Z"/>
<path class="c" d="M2028,2470 V2522"/>
<text class="lb" x="2002" y="2455">1</text>
<text class="lb" x="2041" y="2512">1</text>
<path class="c" d="M3725,2556 H3853 Q3863,2556 3863,2546 V2365 Q3863,2355 3873,2355 H4000"/>
<path class="c" d="M3853,2556 Q3863,2556 3863,2548 Q3864,2543 3873,2543 H4000"/>
<path class="c" d="M3725,2561 H3853 Q3863,2561 3863,2571 V2737 Q3863,2747 3873,2747 H4000"/>
<text class="lb" x="3965" y="2348">1</text>
<text class="lb" x="3965" y="2535">1</text>
<text class="lb" x="3995" y="2740">1</text>
<text class="lb" x="3765" y="2578">1</text>
<path class="dia" d="M2629,2958 L2613.5,2942 L2598,2958 L2613.5,2974 Z"/>
<path class="c" d="M2598,2958 Q2589,2958 2589,2968 V3165 Q2589,3175 2579,3175 H2507 Q2497,3175 2497,3185 V3222.5"/>
<text class="lb" x="2625" y="2935">1</text>
<text class="lb" x="2522" y="3217">0..*</text>
<path class="dia" d="M3177.5,2958 L3192.5,2973.5 L3177.5,2989 L3162.5,2973.5 Z"/>
<path class="c" d="M3177.5,2989 V3069 Q3177.5,3079 3167.5,3079 H3037 Q3027,3079 3027,3089 V3222.5"/>
<text class="lb" x="3151" y="2975">1</text>
<text class="lb" x="3049" y="3217">0..*</text>
<path class="dia" d="M3715.6,2958 L3730.6,2973.5 L3715.6,2989 L3700.6,2973.5 Z"/>
<path class="c" d="M3715.6,2989 V3069 Q3715.6,3079 3705.6,3079 H3502.5 Q3492.5,3079 3492.5,3089 V3222.5"/>
<text class="lb" x="3688" y="2975">1</text>
<text class="lb" x="3516" y="3217">0..*</text>
<path class="c" d="M2654,3683 H2745 Q2755,3683 2755,3673 V3487 Q2755,3477 2765,3477 H2859"/>
<text class="lb" x="2677" y="3704">1</text>
<text class="lb" x="2842" y="3470">0..*</text>
<path class="c" d="M3194,3477 H3215 Q3225,3477 3225,3487 V3617.5 Q3225,3627.5 3235,3627.5 H3259"/>
<text class="lb" x="3241" y="3473">1</text>
<text class="lb" x="3209" y="3642">0..*</text>
<path class="c" d="M2497,4145 V4173 Q2497,4183 2507,4183 H3465.6 Q3475.6,4183 3475.6,4173 V4035"/>
<text class="lb" x="2472" y="4163">0..*</text>
<text class="lb" x="3452" y="4052">0..*</text>
<path class="c" d="M2230,3330 H2274 Q2284,3330 2284,3340 V3670.5 Q2284,3680.5 2294,3680.5 H2316"/>
<path class="c" d="M2230,3780 H2274 Q2284,3780 2284,3770 V3690.5 Q2284,3680.5 2294,3680.5"/>
<path class="tri" d="M2316,3667 L2339,3680.5 L2316,3694 Z"/>
<path class="tri" d="M4534.5,438 L4546,452 L4523,452 Z"/>
<path class="c" d="M4534.5,452 V470"/>
<path class="c" d="M4437.5,501 V470 H4637.5 V501"/>
<path class="c" d="M4517,561 H4558"/>
<path class="dia" d="M4717,561 L4733,552 L4749,561 L4733,570 Z"/>
<path class="c" d="M4749,561 H4780"/>
<path class="dia" d="M4437.5,622 L4446.5,637 L4437.5,652 L4428.5,637 Z"/>
<path class="c" d="M4437.5,652 V660"/>
<path class="dia" d="M4637.5,622 L4646.5,637 L4637.5,652 L4628.5,637 Z"/>
<path class="c" d="M4637.5,652 V660"/>
<path class="dia" d="M4717,718.5 L4733,709.5 L4749,718.5 L4733,727.5 Z"/>
<path class="c" d="M4749,718.5 H4780"/>
<path class="c" d="M4749,718.5 H4758 Q4765,718.5 4765,711 V666 Q4765,658.5 4772,658.5 H4780"/>
<path class="c" d="M4749,718.5 H4758 Q4765,718.5 4765,726 V768 Q4765,775.5 4772,775.5 H4780"/>
</g>
</svg>
